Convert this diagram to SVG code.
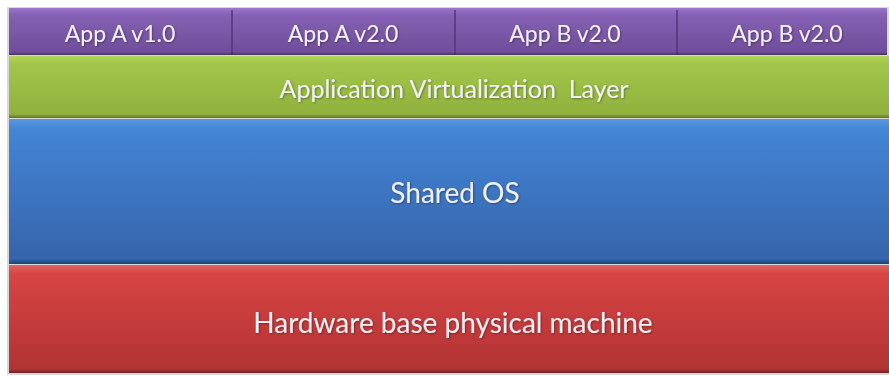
<svg xmlns="http://www.w3.org/2000/svg" width="889" height="378" viewBox="0 0 889 378">
  <style>
    .lbl { font-family: Lato, "Open Sans", "Liberation Sans", sans-serif; fill: #f4f0f8; text-anchor: middle; }
    .app { font-size: 23px; }
    .mid { font-size: 25px; }
    .big { font-size: 28px; }
  </style>
  <defs>
    <linearGradient id="gPurple" x1="0" y1="0" x2="0" y2="1">
      <stop offset="0" stop-color="#9c78cc"/>
      <stop offset="0.15" stop-color="#8560b3"/>
      <stop offset="1" stop-color="#6e4c98"/>
    </linearGradient>
    <linearGradient id="gGreen" x1="0" y1="0" x2="0" y2="1">
      <stop offset="0" stop-color="#b2d45a"/>
      <stop offset="0.12" stop-color="#a2c64a"/>
      <stop offset="1" stop-color="#8fb03c"/>
    </linearGradient>
    <linearGradient id="gBlue" x1="0" y1="0" x2="0" y2="1">
      <stop offset="0" stop-color="#5b98e0"/>
      <stop offset="0.07" stop-color="#4485d6"/>
      <stop offset="1" stop-color="#3463a8"/>
    </linearGradient>
    <linearGradient id="gRed" x1="0" y1="0" x2="0" y2="1">
      <stop offset="0" stop-color="#e26464"/>
      <stop offset="0.08" stop-color="#d84444"/>
      <stop offset="1" stop-color="#b03232"/>
    </linearGradient>
    <linearGradient id="shade" x1="0" y1="0" x2="0" y2="1">
      <stop offset="0" stop-color="#000" stop-opacity="0"/>
      <stop offset="1" stop-color="#000" stop-opacity="0.35"/>
    </linearGradient>
    <filter id="soft" x="-5%" y="-20%" width="110%" height="140%">
      <feGaussianBlur in="SourceAlpha" stdDeviation="1"/>
      <feOffset dx="0.5" dy="1" result="s"/>
      <feFlood flood-color="#000" flood-opacity="0.35"/>
      <feComposite in2="s" operator="in"/>
      <feMerge><feMergeNode/><feMergeNode in="SourceGraphic"/></feMerge>
    </filter>
  </defs>

  <rect width="889" height="378" fill="#ffffff"/>
  <!-- faint outer frame shadow -->
  <rect x="7" y="7" width="882" height="368" fill="#d8d8d8"/>

  <!-- application row -->
  <g id="app-a-v1">
    <rect x="9" y="8" width="222" height="47" fill="url(#gPurple)"/>
    <rect x="9" y="52" width="222" height="3" fill="url(#shade)"/>
    <text class="lbl app" x="120" y="42" filter="url(#soft)">App A v1.0</text>
  </g>
  <g id="app-a-v2">
    <rect x="231" y="8" width="223" height="47" fill="url(#gPurple)"/>
    <rect x="231" y="10" width="2" height="45" fill="#4f3470" opacity="0.7"/>
    <rect x="231" y="52" width="223" height="3" fill="url(#shade)"/>
    <text class="lbl app" x="343" y="42" filter="url(#soft)">App A v2.0</text>
  </g>
  <g id="app-b-v2-a">
    <rect x="454" y="8" width="222" height="47" fill="url(#gPurple)"/>
    <rect x="454" y="10" width="2" height="45" fill="#4f3470" opacity="0.7"/>
    <rect x="454" y="52" width="222" height="3" fill="url(#shade)"/>
    <text class="lbl app" x="565" y="42" filter="url(#soft)">App B v2.0</text>
  </g>
  <g id="app-b-v2-b">
    <rect x="676" y="8" width="211" height="47" fill="url(#gPurple)"/>
    <rect x="676" y="10" width="2" height="45" fill="#4f3470" opacity="0.7"/>
    <rect x="676" y="52" width="211" height="3" fill="url(#shade)"/>
    <text class="lbl app" x="787" y="42" filter="url(#soft)">App B v2.0</text>
  </g>

  <!-- virtualization layer -->
  <g id="virtualization-layer">
    <rect x="9" y="56" width="880" height="62" fill="url(#gGreen)"/>
    <rect x="9" y="114" width="880" height="4" fill="url(#shade)"/>
    <text class="lbl mid" x="454" y="98" filter="url(#soft)" xml:space="preserve">Application Virtualization  Layer</text>
  </g>

  <!-- shared operating system -->
  <g id="shared-os">
    <rect x="9" y="119" width="880" height="145" fill="url(#gBlue)"/>
    <rect x="9" y="259" width="880" height="5" fill="url(#shade)"/>
    <text class="lbl big" x="455" y="203" filter="url(#soft)">Shared OS</text>
  </g>

  <!-- hardware -->
  <g id="hardware">
    <rect x="9" y="265" width="880" height="108" fill="url(#gRed)"/>
    <rect x="9" y="369" width="880" height="4" fill="url(#shade)"/>
    <text class="lbl big" x="453" y="333" filter="url(#soft)">Hardware base physical machine</text>
  </g>
</svg>
